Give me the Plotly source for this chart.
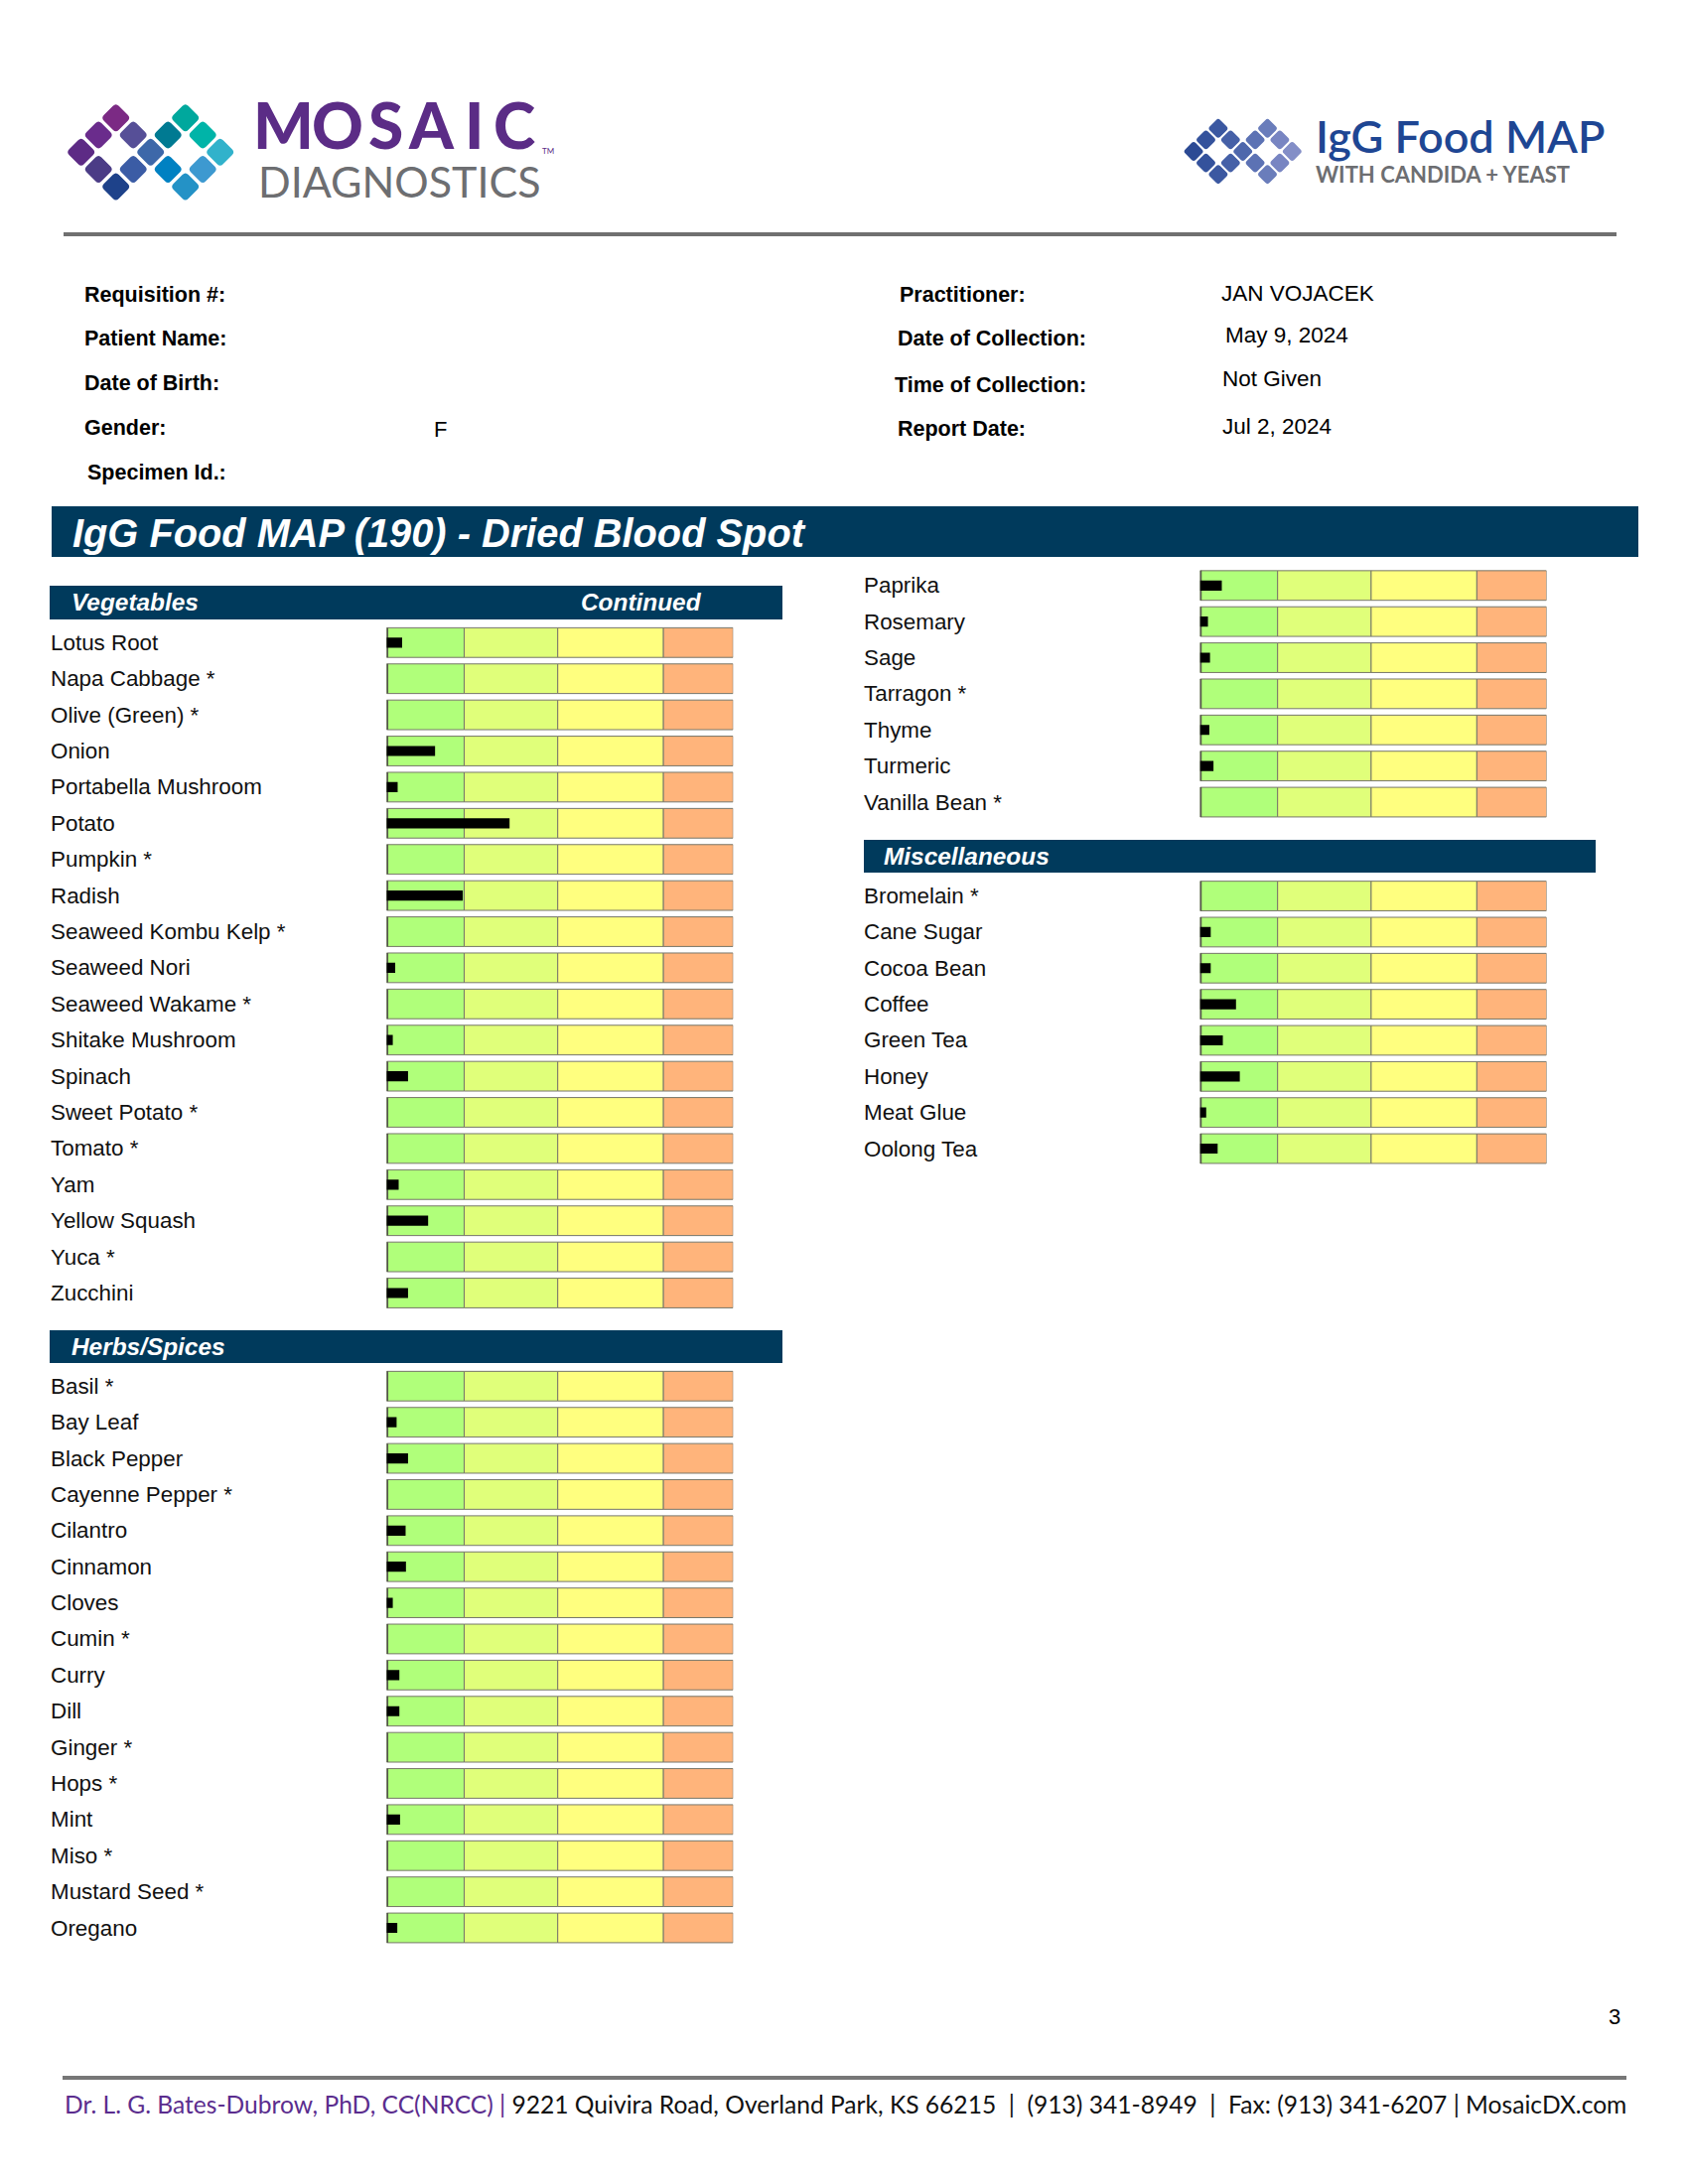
import plotly.graph_objects as go

W, H = 1700, 2200

# ---------------- data ----------------
zone_edges = [0, 22.4, 49.4, 79.9, 100]          # reactivity scale (relative units)
zone_colors = ["#B0FF7A", "#E0FF7A", "#FFFF7F", "#FFB47B"]

veg_foods = ["Lotus Root", "Napa Cabbage *", "Olive (Green) *", "Onion", "Portabella Mushroom",
             "Potato", "Pumpkin *", "Radish", "Seaweed Kombu Kelp *", "Seaweed Nori",
             "Seaweed Wakame *", "Shitake Mushroom", "Spinach", "Sweet Potato *", "Tomato *",
             "Yam", "Yellow Squash", "Yuca *", "Zucchini"]
veg_values = [4.5, 0, 0, 14.0, 3.2, 35.5, 0, 22.0, 0, 2.5, 0, 1.8, 6.2, 0, 0, 3.5, 12.0, 0, 6.2]

herb_foods = ["Basil *", "Bay Leaf", "Black Pepper", "Cayenne Pepper *", "Cilantro", "Cinnamon",
              "Cloves", "Cumin *", "Curry", "Dill", "Ginger *", "Hops *", "Mint", "Miso *",
              "Mustard Seed *", "Oregano"]
herb_values = [0, 2.9, 6.2, 0, 5.5, 5.6, 1.8, 0, 3.7, 3.7, 0, 0, 3.9, 0, 0, 3.1]

herb2_foods = ["Paprika", "Rosemary", "Sage", "Tarragon *", "Thyme", "Turmeric", "Vanilla Bean *"]
herb2_values = [6.3, 2.3, 2.9, 0, 2.7, 3.9, 0]

misc_foods = ["Bromelain *", "Cane Sugar", "Cocoa Bean", "Coffee", "Green Tea", "Honey",
              "Meat Glue", "Oolong Tea"]
misc_values = [0, 3.1, 3.1, 10.4, 6.6, 11.5, 1.8, 5.1]

info_left = [("Requisition #:", ""), ("Patient Name:", ""), ("Date of Birth:", ""),
             ("Gender:", "F"), ("Specimen Id.:", "")]
info_right = [("Practitioner:", "JAN VOJACEK"), ("Date of Collection:", "May 9, 2024"),
              ("Time of Collection:", "Not Given"), ("Report Date:", "Jul 2, 2024")]

# ---------------- helpers ----------------
def X(px):
    return px / W

def Y(py):
    return 1 - py / H

NAVY = "#003A5C"
ARIAL = "Liberation Sans, Arial, sans-serif"

fig = go.Figure()
shapes = []
annotations = []

def ann(x, y, text, size, color="#000000", bold=False, italic=False, xanchor="left",
        family=ARIAL, weight=None):
    annotations.append(dict(
        xref="paper", yref="paper", x=X(x), y=Y(y), text=text, showarrow=False,
        xanchor=xanchor, yanchor="middle",
        font=dict(family=family, size=size, color=color,
                  weight=weight if weight is not None else ("bold" if bold else "normal"),
                  style="italic" if italic else "normal")))

def rect(x0, y0, x1, y1, color):
    shapes.append(dict(type="rect", xref="paper", yref="paper", x0=X(x0), x1=X(x1),
                       y0=Y(y1), y1=Y(y0), fillcolor=color, line=dict(width=0), layer="below"))

def hline(x0, x1, y, color, width):
    shapes.append(dict(type="line", xref="paper", yref="paper", x0=X(x0), x1=X(x1),
                       y0=Y(y), y1=Y(y), line=dict(color=color, width=width)))

def rdiamond(cx, cy, h, color, r=0.2):
    pts = [(cx, cy - h), (cx + h, cy), (cx, cy + h), (cx - h, cy)]
    path = ""
    for i in range(4):
        p = pts[i]
        prv = pts[i - 1]
        nxt = pts[(i + 1) % 4]
        a = (p[0] + (prv[0] - p[0]) * r, p[1] + (prv[1] - p[1]) * r)
        b = (p[0] + (nxt[0] - p[0]) * r, p[1] + (nxt[1] - p[1]) * r)
        path += ("M" if i == 0 else "L") + f"{X(a[0]):.6f},{Y(a[1]):.6f} "
        path += f"Q{X(p[0]):.6f},{Y(p[1]):.6f} {X(b[0]):.6f},{Y(b[1]):.6f} "
    path += "Z"
    shapes.append(dict(type="path", xref="paper", yref="paper", path=path,
                       fillcolor=color, line=dict(width=0)))

# ---------------- logos ----------------
grid = [(-2, -2), (2, -2), (-3, -1), (-1, -1), (1, -1), (3, -1), (-4, 0), (0, 0), (4, 0),
        (-3, 1), (-1, 1), (1, 1), (3, 1), (-2, 2), (2, 2)]
mosaic_cols = ["#7B2A84", "#00A89D", "#6A2C8C", "#564F97", "#007A92", "#00B4A8", "#5D2B85",
               "#3D68A9", "#31B2CB", "#4B3C86", "#3B5CA5", "#0081C2", "#3D99D0", "#1E428A",
               "#2492C6"]
for (gx, gy), c in zip(grid, mosaic_cols):
    rdiamond(151.7 + gx * 17.5, 153.3 + gy * 17.3, 15, c)

blue_by_x = {-4: "#2C4A94", -3: "#34529C", -2: "#3B58A1", -1: "#4560A7", 0: "#4E67AC",
             1: "#5C72B4", 2: "#6A7DBB", 3: "#7885C2", 4: "#838EC7"}
for gx, gy in grid:
    rdiamond(1251.7 + gx * 12.4, 152.5 + gy * 11.6, 10.5, blue_by_x[gx])

for letter, cx in zip("MOSAIC", [285, 340, 388, 434, 477, 518]):
    ann(cx, 126, letter, 64, "#5B2C86", xanchor="center", family="Lato, sans-serif", weight=900)
ann(544, 152, "TM", 8, "#5B2C86", family="Lato, sans-serif")
ann(258, 182, "DIAGNOSTICS", 43, "#6D6E71", family="Lato, sans-serif")
ann(1323, 137, "IgG Food MAP", 45, "#1E4693", family="Lato, sans-serif", weight=600)
ann(1323, 176, "WITH CANDIDA + YEAST", 22, "#6D6E71", family="Lato, sans-serif", weight=700)

hline(64, 1628, 236, "#707070", 4)

# ---------------- patient info ----------------
left_pos = [(82.5, 297), (82.5, 341), (82.5, 386), (82.5, 431), (85.5, 476)]
for (lab, val), (xx, yy) in zip(info_left, left_pos):
    ann(xx, yy, lab, 21.5, "#000000", bold=True)
    if val:
        ann(435, yy + 2, val, 22, "#000000")
right_lab_pos = [(904, 297), (902, 341), (899, 388), (902, 432)]
right_val_pos = [(1228, 296), (1232, 337), (1229, 382), (1229, 429)]
for (lab, val), (lx_, ly_), (vx, vy) in zip(info_right, right_lab_pos, right_val_pos):
    ann(lx_, ly_, lab, 21.5, "#000000", bold=True)
    ann(vx, vy, val, 22.5, "#000000")

# ---------------- title bar ----------------
rect(52, 510, 1650, 561, NAVY)
ann(71, 537, "IgG Food MAP (190) - Dried Blood Spot", 39.8, "#FFFFFF", bold=True, italic=True)

# section headers
rect(50, 590, 788, 624, NAVY)
ann(70, 607, "Vegetables", 24.4, "#FFFFFF", bold=True, italic=True)
ann(583, 607, "Continued", 24.4, "#FFFFFF", bold=True, italic=True)
rect(50, 1340, 788, 1373, NAVY)
ann(70, 1356, "Herbs/Spices", 24.4, "#FFFFFF", bold=True, italic=True)
rect(870, 846, 1607, 879, NAVY)
ann(888, 862, "Miscellaneous", 24.4, "#FFFFFF", bold=True, italic=True)

# ---------------- bar sections ----------------
sections = [
    (veg_foods, veg_values, 389.3, 738.3, 629.1, 1320.7, 49),
    (herb_foods, herb_values, 389.3, 738.3, 1378.1, 1960.2, 49),
    (herb2_foods, herb2_values, 1208.5, 1557.5, 571.6, 826.2, 868),
    (misc_foods, misc_values, 1208.5, 1557.5, 884.4, 1175.2, 868),
]

layout_axes = {}
for i, (foods, vals, x0, x1, ytop, ybot, lx) in enumerate(sections):
    suf = "" if i == 0 else str(i + 1)
    n = len(foods)
    for k in range(4):
        fig.add_trace(go.Bar(
            y=foods, x=[zone_edges[k + 1] - zone_edges[k]] * n, base=[zone_edges[k]] * n,
            orientation="h", width=0.82,
            marker=dict(color=zone_colors[k], line=dict(color="#77776A", width=1)),
            hoverinfo="skip", showlegend=False, xaxis="x" + suf, yaxis="y" + suf))
    fig.add_trace(go.Bar(
        y=foods, x=[0.5] * n, base=[0] * n, orientation="h", width=0.82,
        marker=dict(color="#55554A", line=dict(width=0)),
        hoverinfo="skip", showlegend=False, xaxis="x" + suf, yaxis="y" + suf))
    fig.add_trace(go.Bar(
        y=foods, x=vals, base=[0] * n, orientation="h", width=0.28,
        marker=dict(color="#000000", line=dict(width=0)), name="IgG",
        showlegend=False, xaxis="x" + suf, yaxis="y" + suf))
    layout_axes["xaxis" + suf] = dict(domain=[X(x0), X(x1)], range=[0, 100], visible=False,
                                      fixedrange=True, anchor="y" + suf)
    layout_axes["yaxis" + suf] = dict(domain=[Y(ybot), Y(ytop)], type="category",
                                      categoryorder="array", categoryarray=foods,
                                      range=[n - 0.5, -0.5], visible=False,
                                      fixedrange=True, anchor="x" + suf)
    yref = "y" + suf
    for f in foods:
        annotations.append(dict(xref="paper", yref=yref, x=X(lx), y=f, text=f,
                                showarrow=False, xanchor="left", yanchor="middle",
                                font=dict(family=ARIAL, size=22.4, color="#111111")))

# ---------------- footer ----------------
ann(1626, 2031, "3", 22, "#000000", xanchor="center")
hline(63, 1638, 2093, "#777777", 4)
footer = ('<span style="color:#5B2D8E">Dr. L. G. Bates-Dubrow, PhD, CC(NRCC) |</span> '
          '9221 Quivira Road, Overland Park, KS 66215 &nbsp;|&nbsp; (913) 341-8949 &nbsp;|&nbsp; '
          'Fax: (913) 341-6207 | MosaicDX.com')
ann(63, 2119, footer, 24.6, "#111111", family="Lato, sans-serif")

fig.update_layout(
    width=W, height=H, margin=dict(l=0, r=0, t=0, b=0, pad=0),
    paper_bgcolor="white", plot_bgcolor="rgba(0,0,0,0)",
    barmode="overlay", showlegend=False,
    shapes=shapes, annotations=annotations, **layout_axes)

fig.write_html("out.html", post_script="document.body.style.margin='0';",
               config={"displayModeBar": False, "staticPlot": True})
